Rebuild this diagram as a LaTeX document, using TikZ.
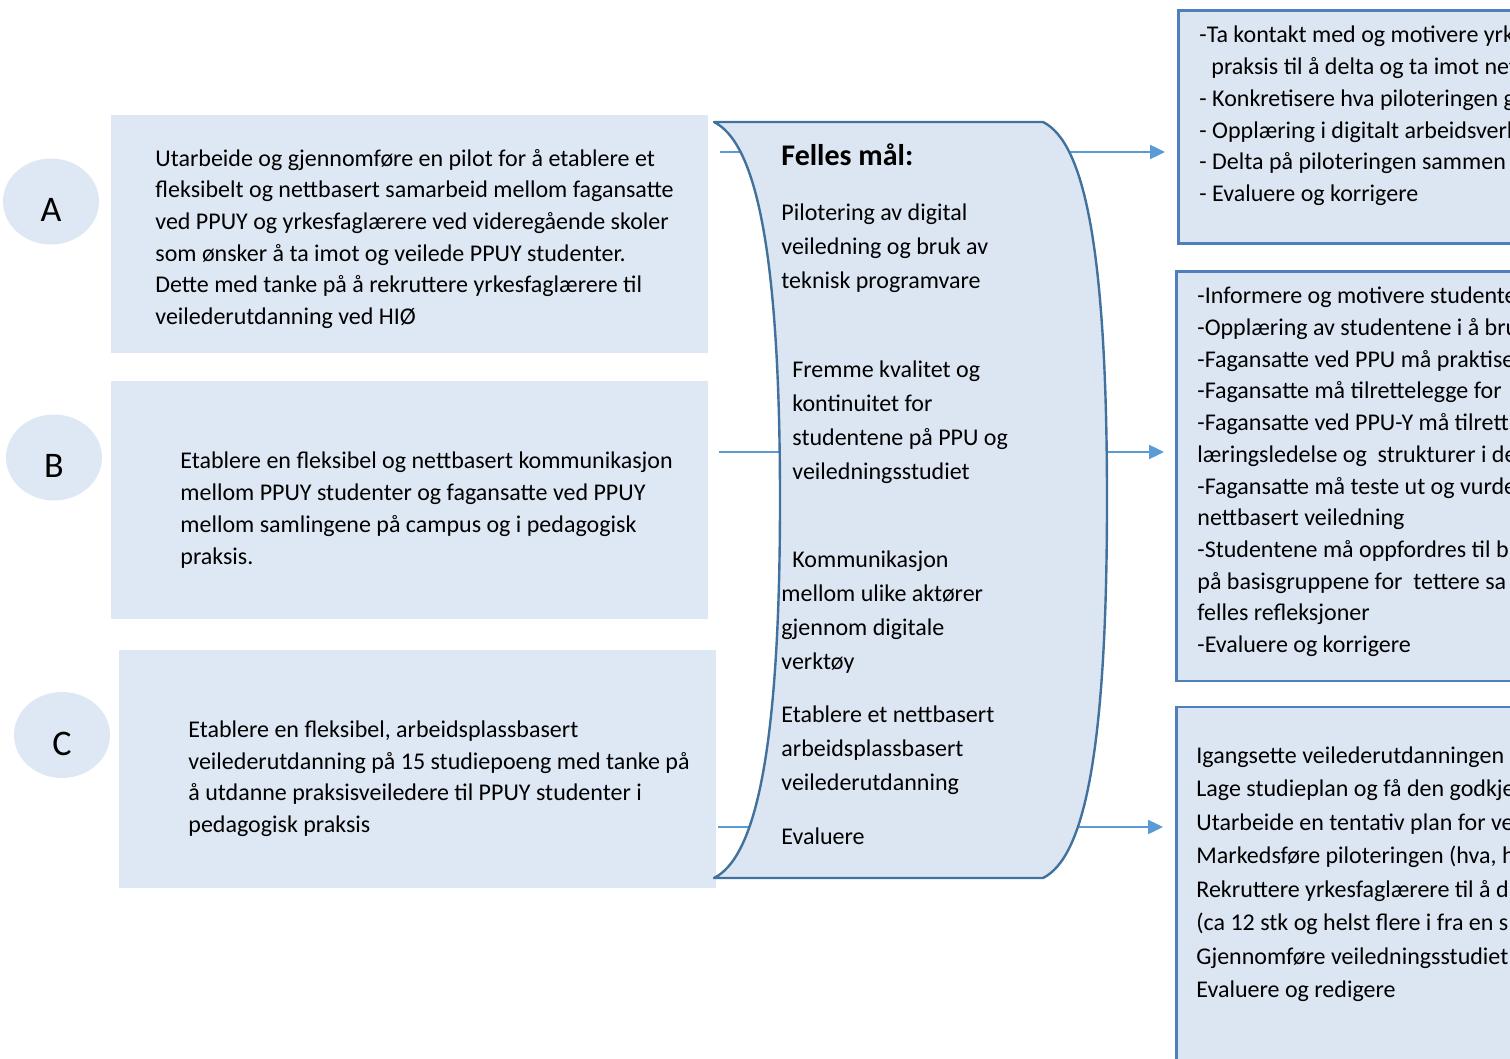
\documentclass[tikz,border=0pt]{standalone}
\usepackage{fontspec}
\setmainfont{Carlito}
\usetikzlibrary{arrows.meta,shapes.geometric,positioning}

\definecolor{boxfill}{HTML}{DEE8F4}
\definecolor{actfill}{HTML}{DCE6F2}
\definecolor{actline}{HTML}{4F7FBA}
\definecolor{scrollline}{HTML}{41719C}
\definecolor{linkblue}{HTML}{5B9BD5}

\tikzset{
  goalbox/.style={rectangle,fill=boxfill,inner sep=0pt,anchor=north west,
    minimum width=298.5pt,minimum height=119pt},
  actbox/.style={rectangle,fill=actfill,draw=actline,line width=1.3pt,inner sep=0pt,
    anchor=north west,minimum width=220pt},
  tag/.style={ellipse,fill=boxfill,minimum width=48pt,minimum height=43pt,inner sep=0pt,
    font=\fontsize{18}{22}\selectfont,text height=20pt,text depth=0pt},
  % base west of a multi-line node = baseline of its last line
  txt/.style={anchor=base west,inner sep=0pt,align=left,font=\fontsize{12}{15.85}\selectfont},
  txtwide/.style={txt,font=\fontsize{12}{16.85}\selectfont},
  link/.style={draw=linkblue,line width=1.2pt,-{Triangle[length=7.5pt,width=7pt]}}
}

\begin{document}
\begin{tikzpicture}[x=0.5pt,y=-0.5pt]
\useasboundingbox (0,0) rectangle (1510,1059);
\clip (0,0) rectangle (1510,1059);

%tags
\node[tag] (tagA) at (51,201.5) {A};
\node[tag] (tagB) at (54,457.5) {B};
\node[tag] (tagC) at (62,735) {C};

%goal boxes
\node[goalbox] (goalA) at (111,115) {};
\node[goalbox] (goalB) at (111,381) {};
\node[goalbox] (goalC) at (119,650) {};
\node[txt] (textA) at (155,324.5) {Utarbeide og gjennomføre en pilot for å etablere et\\
fleksibelt og nettbasert samarbeid mellom fagansatte\\
ved PPUY og yrkesfaglærere ved videregående skoler\\
som ønsker å ta imot og veilede PPUY studenter.\\
Dette med tanke på å rekruttere yrkesfaglærere til\\
veilederutdanning ved HIØ};
\node[txt] (textB) at (180,564) {Etablere en fleksibel og nettbasert kommunikasjon\\
mellom PPUY studenter og fagansatte ved PPUY\\
mellom samlingene på campus og i pedagogisk\\
praksis.};
\node[txt] (textC) at (188,832.5) {Etablere en fleksibel, arbeidsplassbasert\\
veilederutdanning på 15 studiepoeng med tanke på\\
å utdanne praksisveiledere til PPUY studenter i\\
pedagogisk praksis};

%activity boxes
\node[actbox,minimum height=116.5pt] (act1) at (1177,9.5) {};
\node[actbox,minimum height=204.5pt] (act2) at (1175,270.5) {};
\node[actbox,minimum height=200pt] (act3) at (1175,705.5) {};

%links
\coordinate (inA) at (720,152);
\coordinate (inB) at (719,452);
\coordinate (inC) at (718,827);
\draw[link,shorten >=6pt] (inA) -- (inA -| act1.west);
\draw[link,shorten >=5.5pt] (inB) -- (inB -| act2.west);
\draw[link,shorten >=6pt] (inC) -- (inC -| act3.west);

%scroll
\draw[fill=actfill,draw=scrollline,line width=1.2pt,line join=round]
  (714,122) -- (1043,122)
  .. controls (1083,142) and (1107,242) .. (1107,500)
  .. controls (1107,758) and (1083,858) .. (1043,878)
  -- (714,878)
  .. controls (754,858) and (780,758) .. (780,500)
  .. controls (780,242) and (754,142) .. (714,122) -- cycle;

%common goals
\node[txt,font=\fontsize{15}{17}\selectfont\bfseries] (title) at (781,166) {Felles mål:};
\node[txtwide] (goal1) at (781,288.4) {Pilotering av digital\\
veiledning og bruk av\\
teknisk programvare};
\node[txtwide] (goal2) at (792,479) {Fremme kvalitet og\\
kontinuitet for\\
studentene på PPU og\\
veiledningsstudiet};
\node[txtwide] (goal3) at (781,669) {\hspace*{5.5pt}Kommunikasjon\\
mellom ulike aktører\\
gjennom digitale\\
verktøy};
\node[txtwide] (goal4) at (781,790) {Etablere et nettbasert\\
arbeidsplassbasert\\
veilederutdanning};
\node[txtwide] (goal5) at (781,844) {Evaluere};

%activities
\node[txt] (list1) at (1199,201.5) {-Ta kontakt med og motivere yrk\\
\hspace*{6pt}praksis til å delta og ta imot net\\
- Konkretisere hva piloteringen g\\
- Opplæring i digitalt arbeidsverk\\
- Delta på piloteringen sammen\\
- Evaluere og korrigere};
\node[txt] (list2) at (1197,652.5) {-Informere og motivere studente\\
-Opplæring av studentene i å bru\\
-Fagansatte ved PPU må praktise\\
-Fagansatte må tilrettelegge for\\
-Fagansatte ved PPU-Y må tilrett\\
læringsledelse og\ \ strukturer i de\\
-Fagansatte må teste ut og vurde\\
nettbasert veiledning\\
-Studentene må oppfordres til b\\
på basisgruppene for\ \ tettere sa\\
felles refleksjoner\\
-Evaluere og korrigere};
\node[txt,font=\fontsize{12}{16.75}\selectfont] (list3) at (1196,997.5) {Igangsette veilederutdanningen\\
Lage studieplan og få den godkje\\
Utarbeide en tentativ plan for ve\\
Markedsføre piloteringen (hva, h\\
Rekruttere yrkesfaglærere til å d\\
(ca 12 stk og helst flere i fra en s\\
Gjennomføre veiledningsstudiet\\
Evaluere og redigere};
\end{tikzpicture}
\end{document}
